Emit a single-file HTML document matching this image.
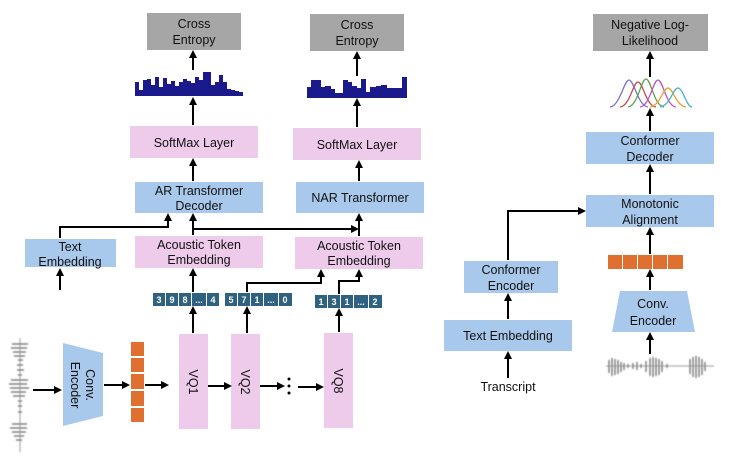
<!DOCTYPE html>
<html><head><meta charset="utf-8"><style>
body{margin:0;background:#fff;}
svg{display:block;font-family:"Liberation Sans",sans-serif;}
</style></head><body>
<svg width="732" height="463" viewBox="0 0 732 463" xmlns="http://www.w3.org/2000/svg">
<defs>
<marker id="a" markerWidth="8" markerHeight="8" refX="6" refY="4" orient="auto" markerUnits="userSpaceOnUse"><path d="M0,0 L8,4 L0,8 Z" fill="#000"/></marker>
<filter id="bl"><feGaussianBlur stdDeviation="0.7"/></filter>
</defs>
<g font-size="12.5" text-anchor="middle" fill="#111">
<rect x="147" y="13" width="94" height="37" fill="#a6a6a6"/>
<text x="194" y="28">Cross</text><text x="194" y="44">Entropy</text>
<rect x="310" y="14" width="94" height="37" fill="#a6a6a6"/>
<text x="357" y="29">Cross</text><text x="357" y="45">Entropy</text>
<rect x="593" y="14" width="115" height="37" fill="#a6a6a6"/>
<text x="650" y="29">Negative Log-</text><text x="650" y="45">Likelihood</text>
<rect x="130" y="126" width="128" height="32" fill="#eecbeb"/><text x="194" y="147">SoftMax Layer</text>
<rect x="293" y="128" width="128" height="32" fill="#eecbeb"/><text x="357" y="149">SoftMax Layer</text>
<rect x="135" y="182" width="128" height="31" fill="#a9c9ec"/><text x="199" y="195">AR Transformer</text><text x="199" y="210">Decoder</text>
<rect x="296" y="182" width="128" height="31" fill="#a9c9ec"/><text x="360" y="202">NAR Transformer</text>
<rect x="25" y="239" width="91" height="28" fill="#a9c9ec"/><text x="70" y="251">Text</text><text x="70" y="266">Embedding</text>
<rect x="135" y="236" width="128" height="32" fill="#eecbeb"/><text x="199" y="249">Acoustic Token</text><text x="199" y="264">Embedding</text>
<rect x="295" y="237" width="128" height="32" fill="#eecbeb"/><text x="359" y="250">Acoustic Token</text><text x="359" y="265">Embedding</text>
<rect x="179" y="334" width="29" height="95" fill="#eecbeb"/>
<rect x="231" y="334" width="29" height="95" fill="#eecbeb"/>
<rect x="324" y="333" width="29" height="95" fill="#eecbeb"/>
<text transform="translate(189,382) rotate(90)">VQ1</text>
<text transform="translate(241,382) rotate(90)">VQ2</text>
<text transform="translate(334,381) rotate(90)">VQ8</text>
<polygon points="63,343 103,353 103,416 63,426" fill="#a9c9ec"/>
<text transform="translate(86,385) rotate(90)">Conv.</text>
<text transform="translate(71,385) rotate(90)">Encoder</text>
<rect x="586" y="132" width="128" height="32" fill="#a9c9ec"/><text x="650" y="145">Conformer</text><text x="650" y="161">Decoder</text>
<rect x="586" y="195" width="128" height="32" fill="#a9c9ec"/><text x="650" y="208">Monotonic</text><text x="650" y="224">Alignment</text>
<rect x="464" y="261" width="94" height="32" fill="#a9c9ec"/><text x="511" y="274">Conformer</text><text x="511" y="290">Encoder</text>
<rect x="444" y="320" width="128" height="31" fill="#a9c9ec"/><text x="508" y="340">Text Embedding</text>
<polygon points="620,291 687,291 695,332 612,332" fill="#a9c9ec"/>
<text x="653" y="308">Conv.</text><text x="653" y="325">Encoder</text>
<text x="508" y="391">Transcript</text>
</g>
<g fill="#e07030">
<rect x="131" y="342" width="13" height="14"/><rect x="131" y="358" width="13" height="14"/><rect x="131" y="374" width="13" height="15"/><rect x="131" y="391" width="13" height="15"/><rect x="131" y="408" width="13" height="14"/>
<rect x="608" y="255" width="14" height="14"/><rect x="623" y="255" width="14" height="14"/><rect x="638" y="255" width="14" height="14"/><rect x="653" y="255" width="14" height="14"/><rect x="668" y="255" width="15" height="14"/>
</g>
<g fill="#2f6180">
<rect x="153" y="293" width="12" height="13"/><rect x="166" y="293" width="12" height="13"/><rect x="179" y="293" width="12" height="13"/><rect x="192" y="293" width="14" height="13"/><rect x="207" y="293" width="12" height="13"/>
<rect x="225" y="293" width="12" height="13"/><rect x="238" y="293" width="12" height="13"/><rect x="251" y="293" width="12" height="13"/><rect x="264" y="293" width="14" height="13"/><rect x="279" y="293" width="13" height="13"/>
<rect x="315" y="295" width="12" height="13"/><rect x="328" y="295" width="12" height="13"/><rect x="341" y="295" width="12" height="13"/><rect x="354" y="295" width="14" height="13"/><rect x="369" y="295" width="13" height="13"/>
</g>
<g fill="#fff" font-size="9" font-weight="bold" text-anchor="middle" font-family="Liberation Sans,sans-serif">
<text x="159" y="303">3</text><text x="172" y="303">9</text><text x="185" y="303">8</text><text x="199" y="303">...</text><text x="213" y="303">4</text>
<text x="231" y="303">5</text><text x="244" y="303">7</text><text x="257" y="303">1</text><text x="271" y="303">...</text><text x="285" y="303">0</text>
<text x="321" y="305">1</text><text x="334" y="305">3</text><text x="347" y="305">1</text><text x="361" y="305">...</text><text x="375" y="305">2</text>
</g>
<g fill="#1a1a8c">
<rect x="135" y="82" width="4" height="14"/><rect x="139" y="90" width="4" height="6"/><rect x="143" y="80" width="4" height="16"/><rect x="147" y="79" width="4" height="17"/><rect x="151" y="85" width="4" height="11"/><rect x="155" y="77" width="4" height="19"/><rect x="159" y="87" width="4" height="9"/><rect x="163" y="78" width="4" height="18"/><rect x="167" y="84" width="4" height="12"/><rect x="171" y="81" width="4" height="15"/><rect x="175" y="86" width="4" height="10"/><rect x="179" y="82" width="4" height="14"/><rect x="183" y="79" width="4" height="17"/><rect x="187" y="81" width="4" height="15"/><rect x="191" y="83" width="4" height="13"/><rect x="195" y="77" width="4" height="19"/><rect x="199" y="80" width="4" height="16"/><rect x="203" y="72" width="4" height="24"/><rect x="207" y="72" width="4" height="24"/><rect x="211" y="85" width="4" height="11"/><rect x="215" y="82" width="4" height="14"/><rect x="219" y="75" width="4" height="21"/><rect x="223" y="82" width="4" height="14"/><rect x="227" y="89" width="4" height="7"/><rect x="231" y="90" width="4" height="6"/><rect x="235" y="91" width="4" height="5"/><rect x="239" y="92" width="4" height="4"/>
<rect x="307" y="87" width="4" height="11"/><rect x="311" y="80" width="6" height="18"/><rect x="317" y="80" width="4" height="18"/><rect x="321" y="87" width="4" height="11"/><rect x="325" y="86" width="6" height="12"/><rect x="331" y="89" width="4" height="9"/><rect x="335" y="93" width="8" height="5"/><rect x="343" y="80" width="5" height="18"/><rect x="348" y="82" width="4" height="16"/><rect x="352" y="86" width="5" height="12"/><rect x="357" y="88" width="4" height="10"/><rect x="361" y="79" width="5" height="19"/><rect x="366" y="92" width="4" height="6"/><rect x="370" y="87" width="6" height="11"/><rect x="376" y="86" width="5" height="12"/><rect x="381" y="85" width="6" height="13"/><rect x="387" y="88" width="4" height="10"/><rect x="391" y="88" width="5" height="10"/><rect x="396" y="88" width="6" height="10"/><rect x="402" y="77" width="5" height="21"/>
</g>
<g fill="none" stroke-width="1.3">
<path d="M610,107 C620,106 624,80 629,80 C634,80 638,106 648,107" stroke="#7a6fd0"/>
<path d="M620,107 C630,106 633,82 638,82 C643,82 646,106 656,107" stroke="#c0504d"/>
<path d="M628,107 C638,106 641,79 646,79 C651,79 654,106 664,107" stroke="#5aa34a"/>
<path d="M640,107 C650,106 653,80 658,80 C663,80 666,106 676,107" stroke="#c050c0"/>
<path d="M650,107 C660,106 663,88 668,88 C673,88 676,106 686,107" stroke="#e8a030"/>
<path d="M660,107 C670,106 673,88 678,88 C683,88 686,106 692,107" stroke="#4bb0c8"/>
</g>
<g stroke="#222" stroke-width="1" filter="url(#bl)" opacity="0.85">
<line x1="20" y1="338" x2="20" y2="452" stroke="#888"/>
<path d="M12,344 H28 M11,348 H27 M13,352 H26 M14,356 H25 M18,360 H23 M17,365 H23 M17,370 H24 M18,375 H22 M11,380 H28 M9,384 H27 M10,388 H29 M11,392 H26 M13,396 H25 M18,401 H22 M18,406 H22 M18,412 H22 M12,424 H27 M10,428 H27 M12,432 H26 M14,436 H24 M16,440 H22"/>
<line x1="606" y1="366" x2="714" y2="366" stroke="#888"/>
<path d="M609,360 V373 M612,358 V376 M615,359 V375 M618,360 V374 M621,362 V372 M624,363 V370 M628,364 V368 M633,363 V369 M637,362 V370 M641,364 V368 M646,361 V372 M650,358 V376 M653,357 V377 M656,358 V376 M659,359 V375 M662,361 V372 M667,364 V368 M690,359 V374 M693,357 V377 M696,356 V378 M699,357 V377 M702,359 V375 M705,362 V371"/>
</g>
<g stroke="#000" stroke-width="2" fill="none" marker-end="url(#a)">
<path d="M193,70 V52"/><path d="M193,125 V99"/><path d="M193,181 V160"/>
<path d="M357,76 V53"/><path d="M357,127 V100"/><path d="M359,181 V162"/>
<path d="M193,235 V215"/>
<path d="M60,238 V227 H168 V215"/>
<path d="M193,229 H357"/>
<path d="M359,236 V215"/>
<path d="M60,290 V270"/>
<path d="M193,292 V270"/>
<path d="M247,292 V283 H321 V271"/>
<path d="M339,294 V281 H359 V271"/>
<path d="M193,333 V308"/><path d="M247,333 V308"/><path d="M339,332 V310"/>
<path d="M33,390 H60"/><path d="M104,385 H128"/><path d="M145,385 H167"/><path d="M208,386 H230"/><path d="M260,386 H283"/><path d="M298,387 H322"/>
<path d="M650,131 V110"/><path d="M650,77 V53"/><path d="M650,194 V166"/><path d="M650,254 V229"/><path d="M650,290 V271"/><path d="M650,354 V334"/>
<path d="M508,378 V353"/><path d="M508,319 V295"/>
<path d="M508,260 V211 H584"/>
</g>
<g fill="#000"><circle cx="289" cy="379" r="1.5"/><circle cx="289" cy="386" r="1.5"/><circle cx="289" cy="393" r="1.5"/></g>
</svg>
</body></html>
